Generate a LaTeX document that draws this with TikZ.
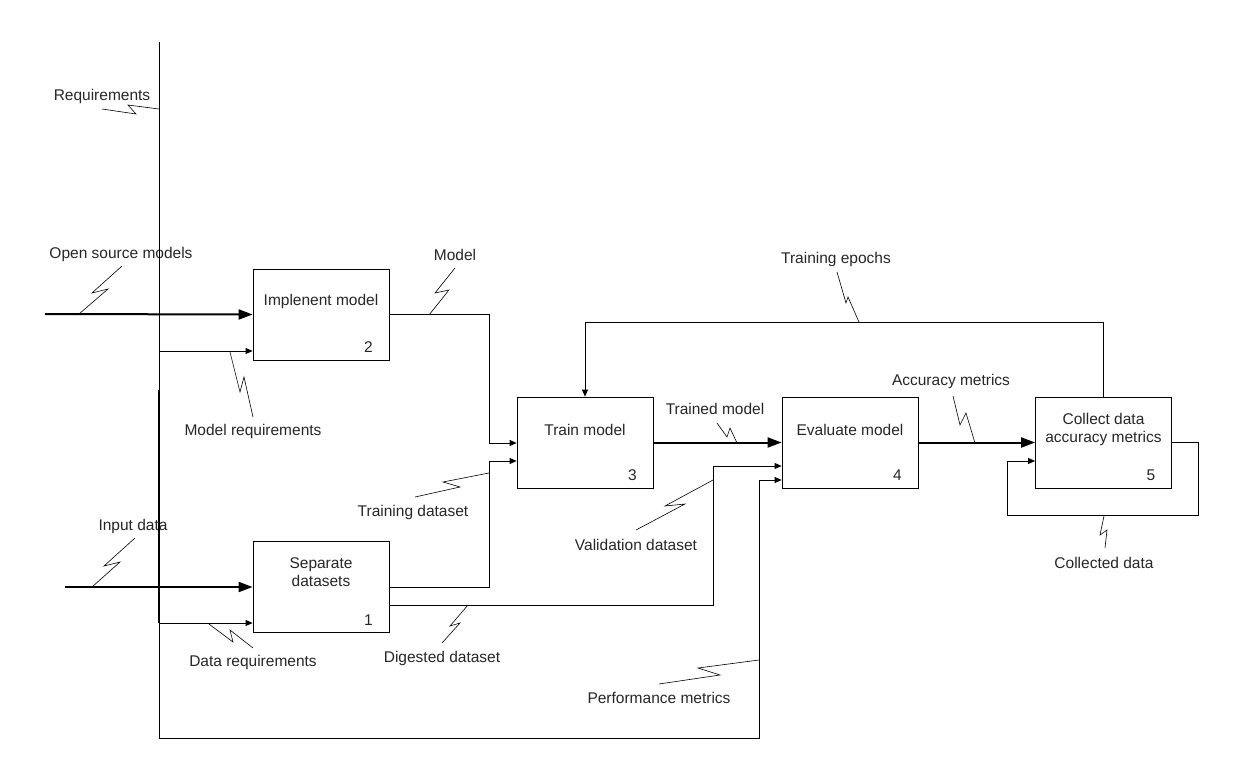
\documentclass[tikz,border=0pt]{standalone}
\usepackage{fontspec}
\setmainfont{Liberation Sans}
\usetikzlibrary{arrows.meta,calc}
\begin{document}
\begin{tikzpicture}[x=1pt,y=-1pt,
  every node/.style={font=\fontsize{15.5}{18}\selectfont, text=black!85},
  box/.style={draw, line width=0.8pt, minimum width=136pt, minimum height=91pt, inner sep=0pt},
  thin/.style={line width=0.8pt},
  thinarr/.style={line width=0.8pt, -{Triangle[length=7pt,width=6pt]}},
  thickarr/.style={line width=2pt, -{Triangle[length=14pt,width=10pt]}},
  squig/.style={line width=0.6pt},
  lbl/.style={anchor=center, inner sep=0pt}]
\useasboundingbox (0,0) rectangle (1242,781);

% boxes
\node[box] (impl) at (321,314.5) {};
\node[box] (sep)  at (321,587) {};
\node[box] (train) at (585,442.5) {};
\node[box] (eval) at (850,442.5) {};
\node[box] (coll) at (1103.5,442.5) {};

\node[lbl] at ($(impl.north)+(0,33)$) {Implenent model};
\node[lbl] at ($(impl.south east)+(-21,-13)$) {2};
\node[lbl, align=center] at ($(sep.north)+(0,31)$) {Separate\\datasets};
\node[lbl] at ($(sep.south east)+(-21,-13)$) {1};
\node[lbl] at ($(train.north)+(0,33)$) {Train model};
\node[lbl] at ($(train.south east)+(-21,-13)$) {3};
\node[lbl] at ($(eval.north)+(0,33)$) {Evaluate model};
\node[lbl] at ($(eval.south east)+(-21,-13)$) {4};
\node[lbl, align=center] at ($(coll.north)+(0,33)$) {Collect data\\accuracy metrics};
\node[lbl] at ($(coll.south east)+(-21,-13)$) {5};

% labels
\node[lbl] (lreq) at (102,96) {Requirements};
\node[lbl] (losm) at (121,254) {Open source models};
\node[lbl] (lmreq) at (253,431) {Model requirements};
\node[lbl] (lin) at (133,526) {Input data};
\node[lbl] (ldreq) at (253,662) {Data requirements};
\node[lbl] (lmodel) at (455,255) {Model};
\node[lbl] (ltrain) at (413,512) {Training dataset};
\node[lbl] (ldig) at (442,658) {Digested dataset};
\node[lbl] (lval) at (636,545) {Validation dataset};
\node[lbl] (lperf) at (659,698) {Performance metrics};
\node[lbl] (ltm) at (715,409) {Trained model};
\node[lbl] (lacc) at (951,381) {Accuracy metrics};
\node[lbl] (lepo) at (836,259) {Training epochs};
\node[lbl] (lcol) at (1104,563) {Collected data};

% requirements vertical line
\coordinate (rtop) at (159,42);
\coordinate (rbot) at (159,738);
\draw[thin] (rtop) -- (rbot);
\draw[line width=1.8pt] (159,390) -- (159,623);

% inputs
\coordinate (osm) at (45,314);
\draw[thickarr] (osm) -- (impl.west);
\draw[thinarr] (159,351) -- (impl.west |- 0,351);
\coordinate (ind) at (65,587);
\draw[thickarr] (ind) -- (sep.west);
\draw[thinarr] (159,623) -- (sep.west |- 0,623);

% model -> train
\draw[thinarr] (impl.east) -- (489,314.5) -- (489,443) -- (train.west |- 0,443);
% training dataset
\draw[thinarr] (sep.east |- 0,587) -- (489,587) -- (489,461) -- (train.west |- 0,461);
% digested / validation
\draw[thinarr] (sep.east |- 0,605) -- (713,605) -- (713,466) -- (eval.west |- 0,466);
% performance metrics
\draw[thinarr] (rbot) -- (759,738) -- (759,480) -- (eval.west |- 0,480);
% trained model
\draw[thickarr] (train.east) -- (eval.west);
% accuracy metrics
\draw[thickarr] (eval.east) -- (coll.west);
% training epochs
\draw[thinarr] (coll.north) -- (1103.5,322) -- (585,322) -- (train.north);
% collected data loop
\draw[thinarr] (coll.east) -- (1198,442.5) -- (1198,515) -- (1007,515) -- (1007,461) -- (coll.west |- 0,461);

% squiggles
\draw[squig] (102,109) -- (136,114) -- (128,105) -- (159,109);
\draw[squig] (79,314) -- (108,289) -- (92,293) -- (122,266);
\draw[squig] (230,352) -- (240,392) -- (244,377) -- (253,417);
\draw[squig] (92,587) -- (120,562) -- (104,566) -- (135,538);
\draw[squig] (209,624) -- (233,642) -- (230,630) -- (253,648);
\draw[squig] (429,315) -- (449,290) -- (435,293) -- (455,268);
\draw[squig] (489,473) -- (443,482) -- (460,487) -- (415,497);
\draw[squig] (468,605) -- (450,626) -- (460,623) -- (442,643);
\draw[squig] (713,480) -- (665,506) -- (685,504) -- (636,530);
\draw[squig] (759,660) -- (698,668) -- (720,675) -- (659,684);
\draw[squig] (717,423) -- (727,437) -- (730,428) -- (737,443);
\draw[squig] (953,396) -- (960,425) -- (966,413) -- (975,443);
\draw[squig] (837,272) -- (846,303) -- (848,297) -- (859,322);
\draw[squig] (1104,516) -- (1100,535) -- (1107,530) -- (1105,548);
\end{tikzpicture}
\end{document}
